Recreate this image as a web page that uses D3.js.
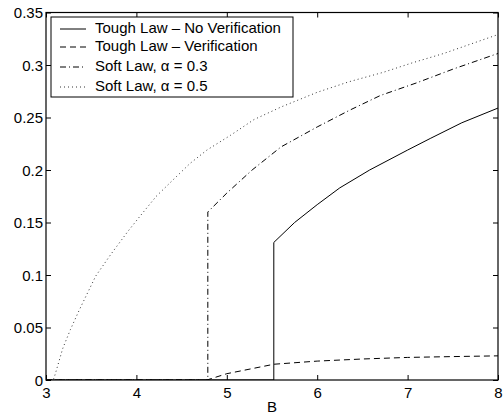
<!DOCTYPE html>
<html>
<head>
<meta charset="utf-8">
<script src="https://cdn.jsdelivr.net/npm/d3@7"></script>
<style>
  html, body { margin: 0; padding: 0; background: #fff; }
  svg { display: block; }
  text { font-family: "Liberation Sans", Arial, Helvetica, sans-serif; fill: #000; }
</style>
</head>
<body>
<svg id="chart" width="504" height="417"></svg>
<script>
// Axis ticks
const xTicks = [3, 4, 5, 6, 7, 8];
const xTickLabels = ["3", "4", "5", "6", "7", "8"];
const yTicks = [0, 0.05, 0.1, 0.15, 0.2, 0.25, 0.3, 0.35];
const yTickLabels = ["0", "0.05", "0.1", "0.15", "0.2", "0.25", "0.3", "0.35"];

// Series: B values and payoffs
const toughNoVerB = [3, 5.52, 5.52, 5.75, 6.0, 6.25, 6.58, 7.0, 7.25, 7.6, 8.0];
const toughNoVerV = [0, 0, 0.131, 0.150, 0.167, 0.183, 0.200, 0.219, 0.230, 0.245, 0.259];

const toughVerB = [3, 4.78, 5.0, 5.29, 5.52, 6.0, 6.5, 7.0, 7.5, 8.0];
const toughVerV = [0, 0, 0.006, 0.011, 0.015, 0.018, 0.020, 0.0215, 0.0223, 0.023];

const soft03B = [3, 4.79, 4.79, 5.0, 5.28, 5.6, 6.0, 6.36, 6.7, 7.1, 7.5, 8.0];
const soft03V = [0, 0, 0.160, 0.178, 0.200, 0.222, 0.241, 0.257, 0.271, 0.283, 0.296, 0.311];

const soft05B = [3, 3.08, 3.1, 3.185, 3.27, 3.37, 3.55, 3.72, 3.91, 4.04, 4.22, 4.41, 4.59, 4.78,
                 5.04, 5.3, 5.6, 6.0, 6.35, 6.73, 7.05, 7.4, 7.7, 8.0];
const soft05V = [0, 0, 0.005, 0.030, 0.048, 0.067, 0.099, 0.120, 0.142, 0.156, 0.175, 0.191, 0.206, 0.219,
                 0.233, 0.248, 0.260, 0.274, 0.284, 0.293, 0.302, 0.311, 0.320, 0.329];

const seriesNames = [
  "Tough Law \u2013 No Verification",
  "Tough Law \u2013 Verification",
  "Soft Law, \u03b1 = 0.3",
  "Soft Law, \u03b1 = 0.5"
];

const series = [
  { name: seriesNames[0], b: toughNoVerB, v: toughNoVerV, dash: null, color: "#000" },
  { name: seriesNames[1], b: toughVerB, v: toughVerV, dash: "6,4", color: "#000" },
  { name: seriesNames[2], b: soft03B, v: soft03V, dash: "6,3,1,3", color: "#000" },
  { name: seriesNames[3], b: soft05B, v: soft05V, dash: "1,3", color: "#333" }
];

const plotLeft = 46, plotRight = 498, plotTop = 12.5, plotBottom = 380;
const fontSize = 15;

const svg = d3.select("#chart");
const x = d3.scaleLinear().domain([3, 8]).range([plotLeft, plotRight]);
const y = d3.scaleLinear().domain([0, 0.35]).range([plotBottom, plotTop]);

svg.append("defs").append("clipPath").attr("id", "plotArea")
  .append("rect").attr("x", plotLeft).attr("y", plotTop - 1)
  .attr("width", plotRight - plotLeft).attr("height", plotBottom - plotTop + 1);

// Curves
const line = d3.line().x(d => x(d[0])).y(d => y(d[1]));
const plot = svg.append("g").attr("clip-path", "url(#plotArea)");
series.forEach(s => {
  plot.append("path")
    .datum(s.b.map((b, i) => [b, s.v[i]]))
    .attr("d", line)
    .attr("fill", "none")
    .attr("stroke", s.color)
    .attr("stroke-width", 1)
    .attr("stroke-dasharray", s.dash);
});

// Axes with inward ticks on all four sides
const tickLen = 5;
const axB = svg.append("g").attr("transform", `translate(0,${plotBottom})`)
  .call(d3.axisBottom(x).tickValues(xTicks).tickSizeInner(-tickLen).tickSizeOuter(0)
    .tickPadding(7).tickFormat((d, i) => xTickLabels[i]));
const axT = svg.append("g").attr("transform", `translate(0,${plotTop})`)
  .call(d3.axisTop(x).tickValues(xTicks).tickSizeInner(-tickLen).tickSizeOuter(0).tickFormat(""));
const axL = svg.append("g").attr("transform", `translate(${plotLeft},0)`)
  .call(d3.axisLeft(y).tickValues(yTicks).tickSizeInner(-tickLen).tickSizeOuter(0)
    .tickPadding(3).tickFormat((d, i) => yTickLabels[i]));
const axR = svg.append("g").attr("transform", `translate(${plotRight},0)`)
  .call(d3.axisRight(y).tickValues(yTicks).tickSizeInner(-tickLen).tickSizeOuter(0).tickFormat(""));

[axB, axT, axL, axR].forEach(g => {
  g.select(".domain").remove();
  g.selectAll(".tick line").attr("stroke", "#000").attr("stroke-width", 1);
  g.selectAll("text").attr("font-size", fontSize)
    .attr("font-family", "'Liberation Sans', Arial, Helvetica, sans-serif").attr("fill", "#000");
});
axL.selectAll("text").attr("dy", "0.35em");

// Axes box
svg.append("rect")
  .attr("x", plotLeft).attr("y", plotTop)
  .attr("width", plotRight - plotLeft).attr("height", plotBottom - plotTop)
  .attr("fill", "none").attr("stroke", "#000").attr("stroke-width", 1.2);

// X-axis label
svg.append("text")
  .attr("x", (plotLeft + plotRight) / 2).attr("y", 412)
  .attr("text-anchor", "middle").attr("font-size", fontSize)
  .text("B");

// Legend
const legend = svg.append("g");
legend.append("rect")
  .attr("x", 51).attr("y", 17).attr("width", 242).attr("height", 80)
  .attr("fill", "#fff").attr("stroke", "#000").attr("stroke-width", 1);
const rowY = [28, 46, 66, 86];
series.forEach((s, i) => {
  legend.append("line")
    .attr("x1", 60).attr("x2", 86)
    .attr("y1", rowY[i] + 1).attr("y2", rowY[i] + 1)
    .attr("stroke", s.color).attr("stroke-width", 1)
    .attr("stroke-dasharray", s.dash);
  legend.append("text")
    .attr("x", 95).attr("y", rowY[i])
    .attr("dy", "0.35em").attr("font-size", fontSize)
    .text(s.name);
});
</script>
</body>
</html>
